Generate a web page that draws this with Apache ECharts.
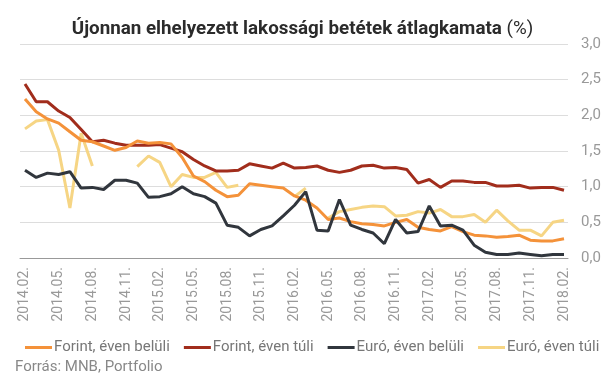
<!DOCTYPE html>
<html>
<head>
<meta charset="utf-8">
<script src="https://cdn.jsdelivr.net/npm/echarts@6/dist/echarts.min.js"></script>
<style>
html,body{margin:0;padding:0;background:#fff;}
#c{width:605px;height:378px;}
</style>
</head>
<body>
<div id="c"></div>
<script>
const categories = ['2014.02.','2014.03.','2014.04.','2014.05.','2014.06.','2014.07.','2014.08.','2014.09.','2014.10.','2014.11.','2014.12.','2015.01.',
'2015.02.','2015.03.','2015.04.','2015.05.','2015.06.','2015.07.','2015.08.','2015.09.','2015.10.','2015.11.','2015.12.','2016.01.',
'2016.02.','2016.03.','2016.04.','2016.05.','2016.06.','2016.07.','2016.08.','2016.09.','2016.10.','2016.11.','2016.12.','2017.01.',
'2017.02.','2017.03.','2017.04.','2017.05.','2017.06.','2017.07.','2017.08.','2017.09.','2017.10.','2017.11.','2017.12.','2018.01.','2018.02.'];

const forintBelul = [2.23,2.05,1.95,1.89,1.77,1.65,1.63,1.57,1.51,1.55,1.64,1.61,
1.62,1.60,1.41,1.15,1.07,0.95,0.86,0.88,1.04,1.02,1.00,0.98,
0.87,0.81,0.70,0.54,0.56,0.51,0.48,0.47,0.45,0.50,0.54,0.43,
0.40,0.38,0.44,0.37,0.32,0.31,0.29,0.30,0.32,0.25,0.24,0.24,0.27];

const forintTul = [2.44,2.19,2.19,2.06,1.97,1.80,1.63,1.65,1.61,1.58,1.58,1.58,
1.59,1.54,1.49,1.38,1.29,1.22,1.22,1.23,1.32,1.29,1.26,1.33,
1.26,1.27,1.29,1.23,1.20,1.23,1.29,1.30,1.26,1.27,1.24,1.05,
1.10,0.99,1.08,1.08,1.06,1.06,1.01,1.01,1.02,0.98,0.99,0.99,0.95];

const euroBelul = [1.23,1.13,1.19,1.17,1.21,0.98,0.99,0.96,1.09,1.09,1.05,0.85,
0.86,0.90,1.00,0.90,0.86,0.77,0.46,0.43,0.31,0.40,0.45,0.59,
0.74,0.93,0.39,0.38,0.82,0.46,0.40,0.35,0.20,0.54,0.35,0.37,
0.73,0.45,0.46,0.39,0.18,0.08,0.05,0.05,0.07,0.05,0.03,0.05,0.05];

const euroTul = [1.81,1.92,1.94,1.51,0.70,1.75,1.29,null,null,null,1.28,1.43,
1.34,1.00,1.17,1.13,1.13,1.20,0.99,1.02,null,null,null,null,
0.86,0.98,null,0.56,0.65,0.68,0.71,0.73,0.72,0.59,0.60,0.65,
0.63,0.68,0.58,0.58,0.61,0.50,0.67,0.52,0.39,0.39,0.31,0.50,0.53];

const seriesNames = ['Forint, éven belüli','Forint, éven túli','Euró, éven belüli','Euró, éven túli'];
const xTickLabels = ['2014.02.','2014.05.','2014.08.','2014.11.','2015.02.','2015.05.','2015.08.','2015.11.',
'2016.02.','2016.05.','2016.08.','2016.11.','2017.02.','2017.05.','2017.08.','2017.11.','2018.02.'];
const yTicks = [0,0.5,1,1.5,2,2.5,3];

const colors = ['#F4923A','#A12D1C','#31363D','#F6D584'];
const datas = [forintBelul, forintTul, euroBelul, euroTul];

const labelIdx = xTickLabels.map(l => categories.indexOf(l));

const chart = echarts.init(document.getElementById('c'), null, {renderer:'canvas'});
chart.setOption({
  animation:false,
  backgroundColor:'#fff',
  textStyle:{fontFamily:'Roboto'},
  title:{
    text:'{b|Újonnan elhelyezett lakossági betétek átlagkamata }{n|(%)}',
    left:'center', top:15,
    textStyle:{
      rich:{
        b:{fontFamily:'Roboto',fontSize:18.8,fontWeight:'bold',color:'#2b2b2b'},
        n:{fontFamily:'Roboto',fontSize:18.8,fontWeight:'normal',color:'#2b2b2b'}
      }
    }
  },
  grid:{left:20,right:37,top:44,bottom:120,containLabel:false},
  legend:{
    data:seriesNames,
    left:20, top:335,
    icon:'rect', itemWidth:27, itemHeight:3, itemGap:14,
    textStyle:{fontFamily:'Roboto',fontSize:15,color:'#777',padding:[0,0,0,-3]}
  },
  graphic:[{
    type:'text', left:15, top:360,
    style:{text:'Forrás: MNB, Portfolio', fontFamily:'Roboto', fontSize:15, fill:'#888'}
  }],
  xAxis:{
    type:'value', min:-0.445, max:48.356,
    axisLine:{show:true, onZero:false, lineStyle:{color:'#999',width:1}},
    axisTick:{show:false},
    axisLabel:{customValues:labelIdx, rotate:90, color:'#999', fontFamily:'Roboto', fontSize:14, margin:9,
      formatter:v=>categories[Math.round(v)] || ''},
    splitLine:{show:false}
  },
  yAxis:{
    type:'value', position:'right', min:0, max:3, interval:0.5,
    axisLine:{show:false}, axisTick:{show:false},
    axisLabel:{color:'#999', fontFamily:'Roboto', fontSize:15, margin:13,
      formatter:v=>v.toFixed(1).replace('.',',')},
    splitLine:{lineStyle:{color:'#ddd',width:1}}
  },
  series: datas.map((d,i)=>({
    name:seriesNames[i], type:'line',
    data:d.map((v,k)=>[k, v===null ? '-' : v]),
    symbol:'none', connectNulls:false,
    lineStyle:{color:colors[i], width:3}, itemStyle:{color:colors[i]},
    z: [3,2,4,1][i]
  }))
});
</script>
</body>
</html>
